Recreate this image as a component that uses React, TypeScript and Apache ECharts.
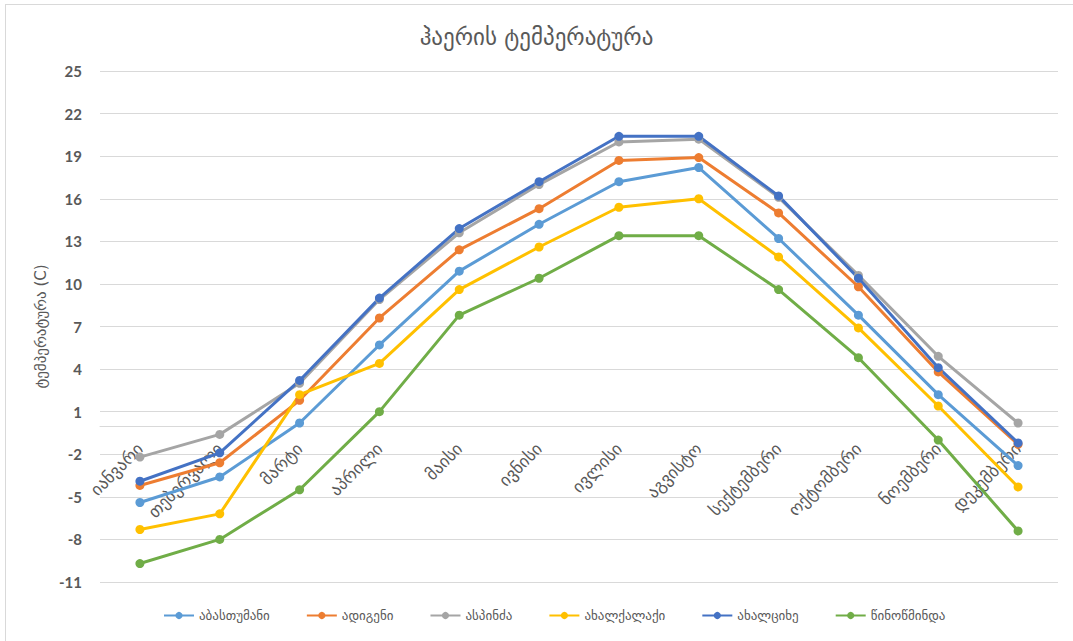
import React, { useEffect, useRef } from "react";
import * as echarts from "echarts";

const months = ["იანვარი", "თებერვალი", "მარტი", "აპრილი", "მაისი", "ივნისი", "ივლისი", "აგვისტო", "სექტემბერი", "ოქტომბერი", "ნოემბერი", "დეკემბერი"];
const abastumani = [-5.4, -3.6, 0.2, 5.7, 10.9, 14.2, 17.2, 18.2, 13.2, 7.8, 2.2, -2.8];
const adigeni = [-4.2, -2.6, 1.8, 7.6, 12.4, 15.3, 18.7, 18.9, 15.0, 9.8, 3.8, -1.3];
const aspindza = [-2.2, -0.6, 3.0, 8.9, 13.6, 17.0, 20.0, 20.2, 16.1, 10.6, 4.9, 0.2];
const akhalkalaki = [-7.3, -6.2, 2.2, 4.4, 9.6, 12.6, 15.4, 16.0, 11.9, 6.9, 1.4, -4.3];
const akhaltsikhe = [-3.9, -1.9, 3.2, 9.0, 13.9, 17.2, 20.4, 20.4, 16.2, 10.4, 4.1, -1.2];
const tsalka = [-9.7, -8.0, -4.5, 1.0, 7.8, 10.4, 13.4, 13.4, 9.6, 4.8, -1.0, -7.4];

const seriesNames = ["აბასთუმანი", "ადიგენი", "ასპინძა", "ახალქალაქი", "ახალციხე", "წინოწმინდა"];
const seriesColors = ["#5B9BD5", "#ED7D31", "#A5A5A5", "#FFC000", "#4472C4", "#70AD47"];
const seriesData = [abastumani, adigeni, aspindza, akhalkalaki, akhaltsikhe, tsalka];

const titleText = "ჰაერის ტემპერატურა";
const yAxisName = "ტემპერატურა (C)";
const yMin = -11;
const yMax = 25;
const yStep = 3;

const geoFont = "'DejaVu Sans', 'Noto Sans', sans-serif";

const W = 1073;
const H = 641;
const gridTop = 71;
const gridBottom = 59;
const plotHeight = H - gridTop - gridBottom;
// place the category axis at value 0 (as in the reference)
const zeroOffset = -plotHeight * ((0 - yMin) / (yMax - yMin));

export default function App() {
  const ref = useRef<HTMLDivElement>(null);
  useEffect(() => {
    if (!ref.current) return;
    const chart = echarts.init(ref.current, null, { renderer: "svg" });
    chart.setOption({
      animation: false,
      backgroundColor: "#ffffff",
      title: {
        text: titleText,
        left: "center",
        top: 20,
        textStyle: { fontFamily: geoFont, fontSize: 23, fontWeight: "normal", color: "#595959" },
      },
      legend: {
        bottom: 14,
        left: 158,
        itemWidth: 30,
        itemHeight: 9,
        itemGap: 36,
        textStyle: { fontFamily: geoFont, fontSize: 13, color: "#595959" },
        data: seriesNames,
      },
      grid: { left: 100, right: 15, top: gridTop, bottom: gridBottom, containLabel: false, outerBoundsMode: "none" },
      xAxis: {
        type: "category",
        data: months,
        boundaryGap: true,
        offset: zeroOffset,
        axisLine: { onZero: false, lineStyle: { color: "#d9d9d9", width: 1 } },
        axisTick: { show: false },
        axisLabel: {
          rotate: 45,
          margin: 20,
          interval: 0,
          fontFamily: geoFont,
          fontSize: 17,
          color: "#595959",
        },
      },
      yAxis: {
        type: "value",
        min: yMin,
        max: yMax,
        interval: yStep,
        name: yAxisName,
        nameLocation: "middle",
        nameGap: 50,
        nameTextStyle: { fontFamily: geoFont, fontSize: 15, color: "#595959" },
        axisLine: { show: false },
        axisTick: { show: false },
        axisLabel: {
          margin: 18,
          fontFamily: "Lato, 'Liberation Sans', sans-serif",
          fontWeight: "bold",
          fontSize: 15,
          color: "#595959",
        },
        splitLine: { lineStyle: { color: "#d9d9d9", width: 1 } },
      },
      series: seriesNames.map((name, i) => ({
        name,
        type: "line",
        data: seriesData[i],
        symbol: "circle",
        symbolSize: 9,
        lineStyle: { width: 3, color: seriesColors[i] },
        itemStyle: { color: seriesColors[i] },
      })),
    });
    return () => chart.dispose();
  }, []);
  return (
    <div style={{ position: "absolute", left: 0, top: 0, width: W, height: H, background: "#fff" }}>
      <div ref={ref} style={{ position: "absolute", left: 0, top: 0, width: W, height: H }} />
      <div
        style={{
          position: "absolute",
          left: 5,
          top: 4,
          width: 1080,
          height: 650,
          border: "1px solid #d9d9d9",
          pointerEvents: "none",
        }}
      />
    </div>
  );
}
